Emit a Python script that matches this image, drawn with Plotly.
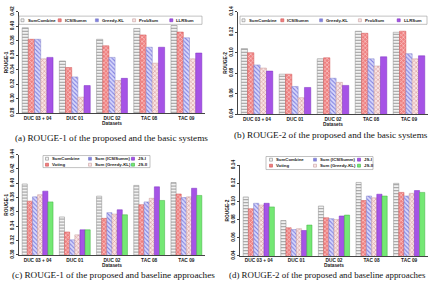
import plotly.graph_objects as go

W, H = 430, 284

datasets = ["DUC 03 + 04", "DUC 01", "DUC 02", "TAC 08", "TAC 09"]

# (a) ROUGE-1 basic systems
a_names = ["SumCombine", "ICSISumm", "Greedy-KL", "ProbSum", "LLRSum"]
a_sumcombine = [0.398, 0.352, 0.382, 0.397, 0.401]
a_icsisumm = [0.382, 0.343, 0.373, 0.388, 0.392]
a_greedykl = [0.382, 0.330, 0.357, 0.371, 0.384]
a_probsum = [0.355, 0.302, 0.325, 0.349, 0.355]
a_llrsum = [0.357, 0.318, 0.328, 0.371, 0.363]

# (b) ROUGE-2 basic systems
b_sumcombine = [0.104, 0.079, 0.094, 0.121, 0.120]
b_icsisumm = [0.100, 0.079, 0.095, 0.119, 0.121]
b_greedykl = [0.088, 0.067, 0.075, 0.094, 0.099]
b_probsum = [0.085, 0.056, 0.071, 0.087, 0.094]
b_llrsum = [0.082, 0.066, 0.068, 0.096, 0.097]

# (c) ROUGE-1 baselines
c_names = ["SumCombine", "Voting", "Sum (ICSISumm)", "Sum (Greedy-KL)", "JS-I", "JS-II"]
c_sumcombine = [0.399, 0.353, 0.382, 0.397, 0.401]
c_voting = [0.375, 0.332, 0.351, 0.370, 0.385]
c_sum_icsi = [0.381, 0.321, 0.359, 0.374, 0.380]
c_sum_greedy = [0.384, 0.328, 0.357, 0.379, 0.381]
c_js1 = [0.389, 0.335, 0.363, 0.395, 0.393]
c_js2 = [0.374, 0.335, 0.356, 0.376, 0.383]

# (d) ROUGE-2 baselines
d_sumcombine = [0.105, 0.079, 0.095, 0.121, 0.120]
d_voting = [0.092, 0.071, 0.082, 0.101, 0.110]
d_sum_icsi = [0.098, 0.069, 0.081, 0.106, 0.106]
d_sum_greedy = [0.096, 0.070, 0.080, 0.104, 0.109]
d_js1 = [0.098, 0.068, 0.084, 0.108, 0.112]
d_js2 = [0.094, 0.074, 0.085, 0.106, 0.110]

captions = [
    "(a) ROUGE-1 of the proposed and the basic systems",
    "(b) ROUGE-2 of the proposed and the basic systems",
    "(c) ROUGE-1 of the proposed and baseline approaches",
    "(d) ROUGE-2 of the proposed and baseline approaches",
]

# styles: (bg, fg, shape, line)
ST_GRAY = ("#f2f2f2", "#9a9a9a", "-", "#8a8a8a")
ST_RED = ("#ef8080", "#fcd4d4", "x", "#d05050")
ST_BLUE = ("#d8d8fb", "#7f7fe0", "\\", "#8080c8")
ST_PINK = ("#f9e4e4", "#d49a9a", "x", "#c8a0a0")
ST_PURP = ("#a653e6", None, "", "#7a30c0")
ST_GREEN = ("#74e874", None, "", "#40b040")

fig = go.Figure()

def px_x(x):
    return x / W

def px_y(y):
    return 1 - y / H

panels = [
    dict(ax="", dom_x=(19, 205), dom_y=(6, 111), rng=(0.28, 0.42), title="ROUGE-1",
         series=[a_sumcombine, a_icsisumm, a_greedykl, a_probsum, a_llrsum],
         names=a_names, styles=[ST_GRAY, ST_RED, ST_BLUE, ST_PINK, ST_PURP]),
    dict(ax="2", dom_x=(238, 428), dom_y=(6, 112), rng=(0.04, 0.14), title="ROUGE-2",
         series=[b_sumcombine, b_icsisumm, b_greedykl, b_probsum, b_llrsum],
         names=a_names, styles=[ST_GRAY, ST_RED, ST_BLUE, ST_PINK, ST_PURP]),
    dict(ax="3", dom_x=(19, 205), dom_y=(154, 258), rng=(0.30, 0.44), title="ROUGE-1",
         series=[c_sumcombine, c_voting, c_sum_icsi, c_sum_greedy, c_js1, c_js2],
         names=c_names, styles=[ST_GRAY, ST_RED, ST_BLUE, ST_PINK, ST_PURP, ST_GREEN]),
    dict(ax="4", dom_x=(240, 428), dom_y=(165, 259), rng=(0.04, 0.14), title="ROUGE-2",
         series=[d_sumcombine, d_voting, d_sum_icsi, d_sum_greedy, d_js1, d_js2],
         names=c_names, styles=[ST_GRAY, ST_RED, ST_BLUE, ST_PINK, ST_PURP, ST_GREEN]),
]

bold = dict(family="Liberation Sans", size=4.8, color="#222", weight="bold")

layout = {}
for p in panels:
    for vals, name, st in zip(p["series"], p["names"], p["styles"]):
        bg, fg, shape, lc = st
        marker = dict(color=bg, line=dict(color=lc, width=0.5))
        if shape:
            marker["pattern"] = dict(shape=shape, bgcolor=bg, fgcolor=fg, size=3, solidity=0.35,
                                     fillmode="replace")
        fig.add_trace(go.Bar(x=datasets, y=vals, name=name, marker=marker, showlegend=False,
                             xaxis="x" + p["ax"], yaxis="y" + p["ax"]))
    layout["xaxis" + p["ax"]] = dict(
        domain=[px_x(p["dom_x"][0]), px_x(p["dom_x"][1])], anchor="y" + p["ax"],
        showline=True, linecolor="#444", linewidth=0.7, ticks="", tickfont=bold,
        title=dict(text="Datasets", font=bold, standoff=1), showgrid=False,
    )
    layout["yaxis" + p["ax"]] = dict(
        domain=[px_y(p["dom_y"][1]), px_y(p["dom_y"][0])], anchor="x" + p["ax"],
        range=list(p["rng"]), dtick=0.02, tick0=0, tickformat=".2f", tickangle=-90,
        showline=True, linecolor="#444", linewidth=0.7, ticks="outside", ticklen=2,
        tickcolor="#444", tickfont=bold, showgrid=False, zeroline=False,
        title=dict(text=p["title"], font=bold, standoff=1),
    )

shapes = []
annotations = []

def swatch(x, y, st):
    bg, fg, shape, lc = st
    fill = fg if shape == "\\" else bg
    shapes.append(dict(type="rect", xref="paper", yref="paper",
                       x0=px_x(x - 1.5), x1=px_x(x + 1.5), y0=px_y(y + 1.5), y1=px_y(y - 1.5),
                       fillcolor=fill, line=dict(color=lc, width=0.6)))

def legend_box(x0, y0, x1, y1):
    shapes.append(dict(type="rect", xref="paper", yref="paper",
                       x0=px_x(x0), x1=px_x(x1), y0=px_y(y1), y1=px_y(y0),
                       fillcolor="white", line=dict(color="#999", width=0.6), layer="above"))

leg_font = dict(family="Liberation Sans", size=4.3, color="#222", weight="bold")

# one-row legends for (a) and (b)
for p, (bx0, bx1), step in [(panels[0], (19, 202), 37.2), (panels[1], (240, 427), 38.8)]:
    legend_box(bx0, 10.5, bx1, 19)
    for i, (name, st) in enumerate(zip(p["names"], p["styles"])):
        sx = bx0 + 3.5 + i * step
        annotations.append(dict(xref="paper", yref="paper", x=px_x(sx + 3), y=px_y(14.8),
                                text=name, showarrow=False, xanchor="left", yanchor="middle",
                                font=leg_font))
        swatch(sx, 14.8, st)

# three-column legends for (c) and (d)
for p, (bx0, by0, bx1, by1), cols in [
    (panels[2], (43, 155, 150, 167.5), (47, 90, 133)),
    (panels[3], (266, 156, 373, 169.5), (271, 315, 359)),
]:
    legend_box(bx0, by0, bx1, by1)
    for i, (name, st) in enumerate(zip(p["names"], p["styles"])):
        col, row = i // 2, i % 2
        sx = cols[col]
        sy = by0 + 3.3 + row * 6.2
        annotations.append(dict(xref="paper", yref="paper", x=px_x(sx + 3), y=px_y(sy),
                                text=name, showarrow=False, xanchor="left", yanchor="middle",
                                font=leg_font))
        swatch(sx, sy, st)

for text, (cx, cy, anchor, fs) in zip(captions, [(111, 137, "center", 9.2), (331, 134, "center", 9.2),
                                                 (114, 279, "center", 9.2), (428, 279, "right", 8.9)]):
    annotations.append(dict(xref="paper", yref="paper", x=px_x(cx), y=px_y(cy), text=text,
                            showarrow=False, xanchor=anchor, yanchor="middle",
                            font=dict(family="Liberation Serif", size=fs, color="#111")))

fig.update_layout(
    width=W, height=H, margin=dict(l=0, r=0, t=0, b=0),
    paper_bgcolor="white", plot_bgcolor="white",
    barmode="group", bargap=0.17, bargroupgap=0,
    showlegend=False, shapes=shapes, annotations=annotations,
    **layout,
)

fig.write_html("out.html")
